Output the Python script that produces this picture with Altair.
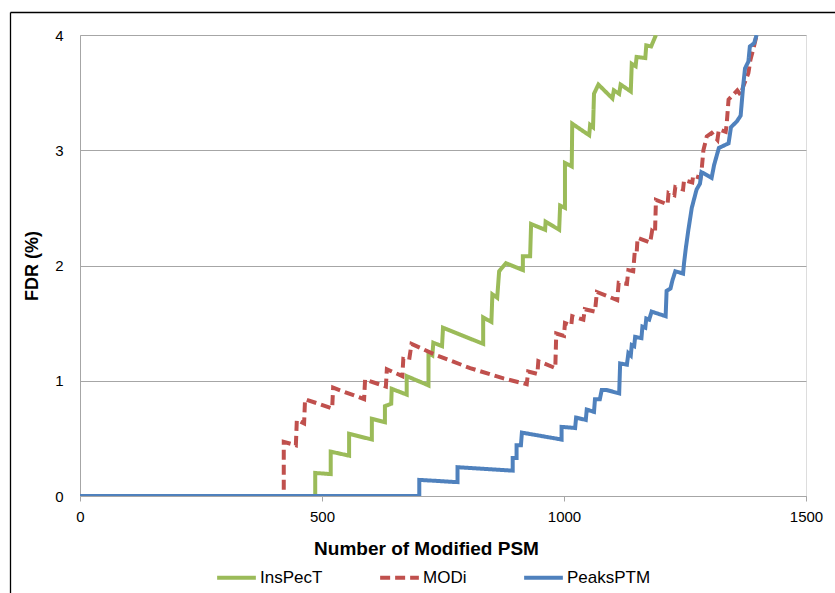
import altair as alt
import pandas as pd

series_names = ["InsPecT", "MODi", "PeaksPTM"]
colors = ["#9BBB59", "#C0504D", "#4F81BD"]

inspect_x = [0, 486, 486, 518, 518, 556, 556, 603, 603, 630, 630, 643, 644, 675, 675, 720, 720, 728, 730, 748, 750,
             833, 833, 850, 852, 862, 866, 880, 915, 915, 930, 932, 961, 962, 990, 992, 1002, 1002, 1016, 1017, 1052,
             1054, 1060, 1062, 1071, 1100, 1103, 1114, 1117, 1138, 1140, 1148, 1150, 1168, 1170, 1180, 1190]
inspect_y = [0, 0, 0.20, 0.19, 0.385, 0.35, 0.54, 0.49, 0.67, 0.64, 0.78, 0.80, 0.93, 0.88, 1.04, 0.96, 1.24, 1.22, 1.33, 1.30, 1.46,
             1.32, 1.55, 1.51, 1.75, 1.72, 1.95, 2.02, 1.96, 2.08, 2.08, 2.36, 2.31, 2.38, 2.31, 2.52, 2.50, 2.89, 2.86, 3.23, 3.13,
             3.22, 3.20, 3.49, 3.57, 3.45, 3.52, 3.49, 3.57, 3.51, 3.75, 3.73, 3.81, 3.80, 3.91, 3.90, 4.0]

modi_x = [0, 421, 421, 446, 448, 463, 465, 521, 523, 587, 589, 632, 634, 666, 668, 680, 685, 737, 806, 875, 923,
          926, 945, 947, 982, 984, 1000, 1002, 1015, 1017, 1040, 1043, 1064, 1068, 1110, 1113, 1130, 1133, 1143, 1146,
          1150, 1152, 1178, 1182, 1188, 1190, 1214, 1216, 1228, 1230, 1246, 1248, 1265, 1267, 1282, 1284, 1288, 1295,
          1305, 1317, 1320, 1334, 1336, 1340, 1358, 1365, 1370, 1381, 1385, 1393, 1398]
modi_y = [0, 0, 0.47, 0.44, 0.66, 0.63, 0.84, 0.76, 0.94, 0.84, 1.01, 0.95, 1.10, 1.04, 1.19, 1.18, 1.32, 1.22, 1.11, 1.02, 0.97,
          1.08, 1.06, 1.17, 1.11, 1.41, 1.39, 1.50, 1.48, 1.56, 1.53, 1.62, 1.60, 1.77, 1.70, 1.85, 1.84, 1.96, 1.95, 2.11,
          2.10, 2.24, 2.20, 2.30, 2.28, 2.57, 2.53, 2.63, 2.61, 2.68, 2.66, 2.74, 2.72, 2.78, 2.76, 2.81, 3.00, 3.12,
          3.15, 3.09, 3.18, 3.16, 3.22, 3.44, 3.52, 3.48, 3.55, 3.67, 3.78, 3.91, 4.0]

peaks_x = [0, 701, 701, 780, 780, 894, 894, 902, 902, 911, 913, 995, 995, 1023, 1025, 1045, 1047, 1062, 1064, 1074,
           1078, 1088, 1114, 1116, 1130, 1133, 1138, 1140, 1145, 1147, 1160, 1162, 1168, 1170, 1176, 1181, 1210, 1212,
           1220, 1224, 1230, 1246, 1248, 1252, 1257, 1264, 1274, 1281, 1284, 1305, 1310, 1320, 1340, 1345, 1357, 1365,
           1368, 1370, 1374, 1381, 1384, 1393, 1398]
peaks_y = [0, 0, 0.14, 0.12, 0.25, 0.22, 0.33, 0.33, 0.44, 0.44, 0.55, 0.49, 0.60, 0.59, 0.68, 0.66, 0.75, 0.73, 0.84, 0.84,
           0.92, 0.92, 0.89, 1.15, 1.14, 1.24, 1.22, 1.31, 1.30, 1.38, 1.37, 1.47, 1.46, 1.54, 1.53, 1.60, 1.56, 1.78,
           1.80, 1.87, 1.95, 1.93, 2.02, 2.16, 2.31, 2.50, 2.66, 2.71, 2.81, 2.76, 2.87, 3.02, 3.06, 3.20, 3.25, 3.30,
           3.45, 3.55, 3.71, 3.77, 3.90, 3.93, 4.0]

x_ticks = [0, 500, 1000, 1500]
y_ticks = [0, 1, 2, 3, 4]

rows = []
for name, xs, ys in zip(series_names, [inspect_x, modi_x, peaks_x], [inspect_y, modi_y, peaks_y]):
    for i, (xv, yv) in enumerate(zip(xs, ys)):
        rows.append({"series": name, "psm": xv, "fdr": yv, "idx": i})
df = pd.DataFrame(rows)

FONT = "Liberation Sans"

lines = alt.Chart(df).mark_line(strokeWidth=4, clip=True, strokeJoin="miter", strokeCap="butt").encode(
    x=alt.X("psm:Q", scale=alt.Scale(domain=[0, 1500], nice=False),
            axis=alt.Axis(values=x_ticks, format="d", labelFlush=False, title="Number of Modified PSM", grid=False,
                          domainColor="#A6A6A6", tickColor="#A6A6A6", tickSize=5,
                          labelFontSize=15, labelPadding=8, labelColor="#000000", labelFont=FONT,
                          titleFont=FONT, titleFontSize=19, titleFontWeight="bold", titleColor="#000000",
                          titleX=346, titleY=52, titleBaseline="middle", titleAlign="center")),
    y=alt.Y("fdr:Q", scale=alt.Scale(domain=[0, 4], nice=False),
            axis=alt.Axis(values=y_ticks, title="FDR (%)", grid=True, gridColor="#A6A6A6", labelFlush=False,
                          domainColor="#A6A6A6", ticks=False, labelPadding=17,
                          labelFontSize=15, labelColor="#000000", labelFont=FONT,
                          titleFont=FONT, titleFontSize=18, titleFontWeight="bold", titleColor="#000000",
                          titleX=-48, titleY=230.5, titleAngle=270, titleAlign="center", titleBaseline="middle")),
    color=alt.Color("series:N", scale=alt.Scale(domain=series_names, range=colors),
                    legend=alt.Legend(title=None, orient="none", direction="horizontal", legendX=135, legendY=521,
                                      symbolType="stroke", symbolSize=1500, symbolStrokeWidth=4,
                                      labelFont=FONT, labelFontSize=17, labelColor="#000000",
                                      labelOffset=2, columnPadding=49)),
    strokeDash=alt.StrokeDash("series:N", scale=alt.Scale(domain=series_names, range=[[1, 0], [10, 5], [1, 0]]),
                              legend=None),
    order=alt.Order("idx:Q"),
)

frame_src = alt.Data(values=[{"f": 1}])
frame_top = alt.Chart(frame_src).mark_rule(stroke="#000000", strokeWidth=1.3).encode(
    x=alt.value(-69.5), x2=alt.value(800), y=alt.value(-22.5)
)
frame_left = alt.Chart(frame_src).mark_rule(stroke="#000000", strokeWidth=1.3).encode(
    x=alt.value(-69.5), y=alt.value(-22.5), y2=alt.value(620)
)

chart = alt.layer(frame_top, frame_left, lines).properties(
    width=726, height=461,
    autosize=alt.AutoSizeParams(type="none"),
    padding={"left": 80, "top": 35, "right": 29, "bottom": 97},
).configure_view(stroke=None).configure(background="white")

chart.save("out.html", embed_options={"renderer": "svg", "actions": False})
